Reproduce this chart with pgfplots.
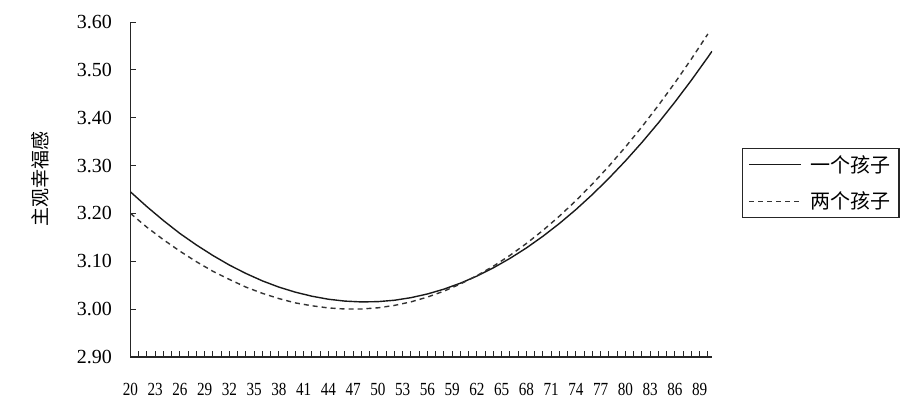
\documentclass[border=0pt]{standalone}
\usepackage{graphicx}
\usepackage{pgfplots}
\pgfplotsset{compat=1.18}
\usepackage{fontspec}
\setmainfont{Liberation Serif}
\newfontfamily\cjk{Noto Sans CJK SC}
\begin{document}
\begin{tikzpicture}
\useasboundingbox (-130.5pt,-43pt) rectangle (777.5pt,357pt);
\begin{axis}[
  scale only axis,
  width=581.5pt, height=335pt,
  xmin=20, xmax=90.5, ymin=2.9, ymax=3.6,
  axis x line*=bottom, axis y line*=left,
  axis line style={line width=1.4pt, black!85},
  xtick={20,23,...,89},
  minor xtick={20,21,...,90},
  ytick={2.9,3.0,3.1,3.2,3.3,3.4,3.5,3.6},
  tick align=inside,
  major tick length=6pt, minor tick length=6pt,
  tick style={line width=1pt, black!85},
  /pgf/number format/assume math mode=true,
  tick label style={black, font=\fontsize{18.5}{20}\selectfont},
  yticklabel style={/pgf/number format/fixed, /pgf/number format/fixed zerofill, /pgf/number format/precision=2, xshift=-15pt, font=\fontsize{20}{22}\selectfont},
  xticklabel={\fontsize{18.5}{20}\selectfont\scalebox{0.82}[1]{\pgfmathprintnumber[assume math mode=true]{\tick}}},
  xticklabel style={yshift=-23pt},
  ylabel={\cjk 主观幸福感},
  every axis y label/.style={at={(axis description cs:0,0.53)}, xshift=-90pt, rotate=90, anchor=center, font=\fontsize{19}{21}\selectfont},
  legend style={at={(rel axis cs:1.0516,0.624)}, anchor=north west, draw=black!85, line width=1.2pt,
    font=\fontsize{20}{22}\selectfont, row sep=14pt, inner xsep=6pt, inner ysep=5pt, cells={anchor=west},
    /tikz/every odd column/.style={column sep=7pt}},
  legend image code/.code={\draw[#1, line width=1.3pt] (0pt,0pt) -- (52pt,0pt);},
]
\addplot[black!90, line width=1.4pt] coordinates {
(20,3.245)(22,3.214)(24,3.185)(26,3.158)(28,3.134)(30,3.112)(32,3.092)(34,3.0745)
(36,3.059)(38,3.046)(40,3.0354)(42,3.027)(44,3.0207)(46,3.0168)(48,3.0151)
(50,3.0157)(52,3.0186)(54,3.024)(56,3.0317)(58,3.0418)(60,3.0543)(62,3.0691)
(64,3.0864)(66,3.106)(68,3.1279)(70,3.1523)(72,3.179)(74,3.2081)(76,3.2396)
(78,3.2735)(80,3.3097)(82,3.3483)(84,3.3893)(86,3.4327)(88,3.4784)(90,3.5265)(90.5,3.539)};
\addlegendentry{\cjk 一个孩子}
\addplot[black!80, line width=1.4pt, dash pattern=on 5pt off 4pt] coordinates {
(20,3.200)(22,3.171)(24,3.145)(26,3.121)(28,3.099)(30,3.079)(32,3.062)(34,3.046)
(36,3.033)(38,3.022)(40,3.013)(42,3.007)(44,3.0025)(46,3.0003)(48,3.0003)
(50,3.0028)(52,3.0078)(54,3.0152)(56,3.0252)(58,3.0376)(60,3.0526)(62,3.070)
(64,3.0899)(66,3.1123)(68,3.1372)(70,3.1645)(72,3.1944)(74,3.2267)(76,3.2616)
(78,3.2989)(80,3.3387)(82,3.381)(84,3.4258)(86,3.473)(88,3.5228)(90,3.575)};
\addlegendentry{\cjk 两个孩子}
\end{axis}
\end{tikzpicture}
\end{document}
